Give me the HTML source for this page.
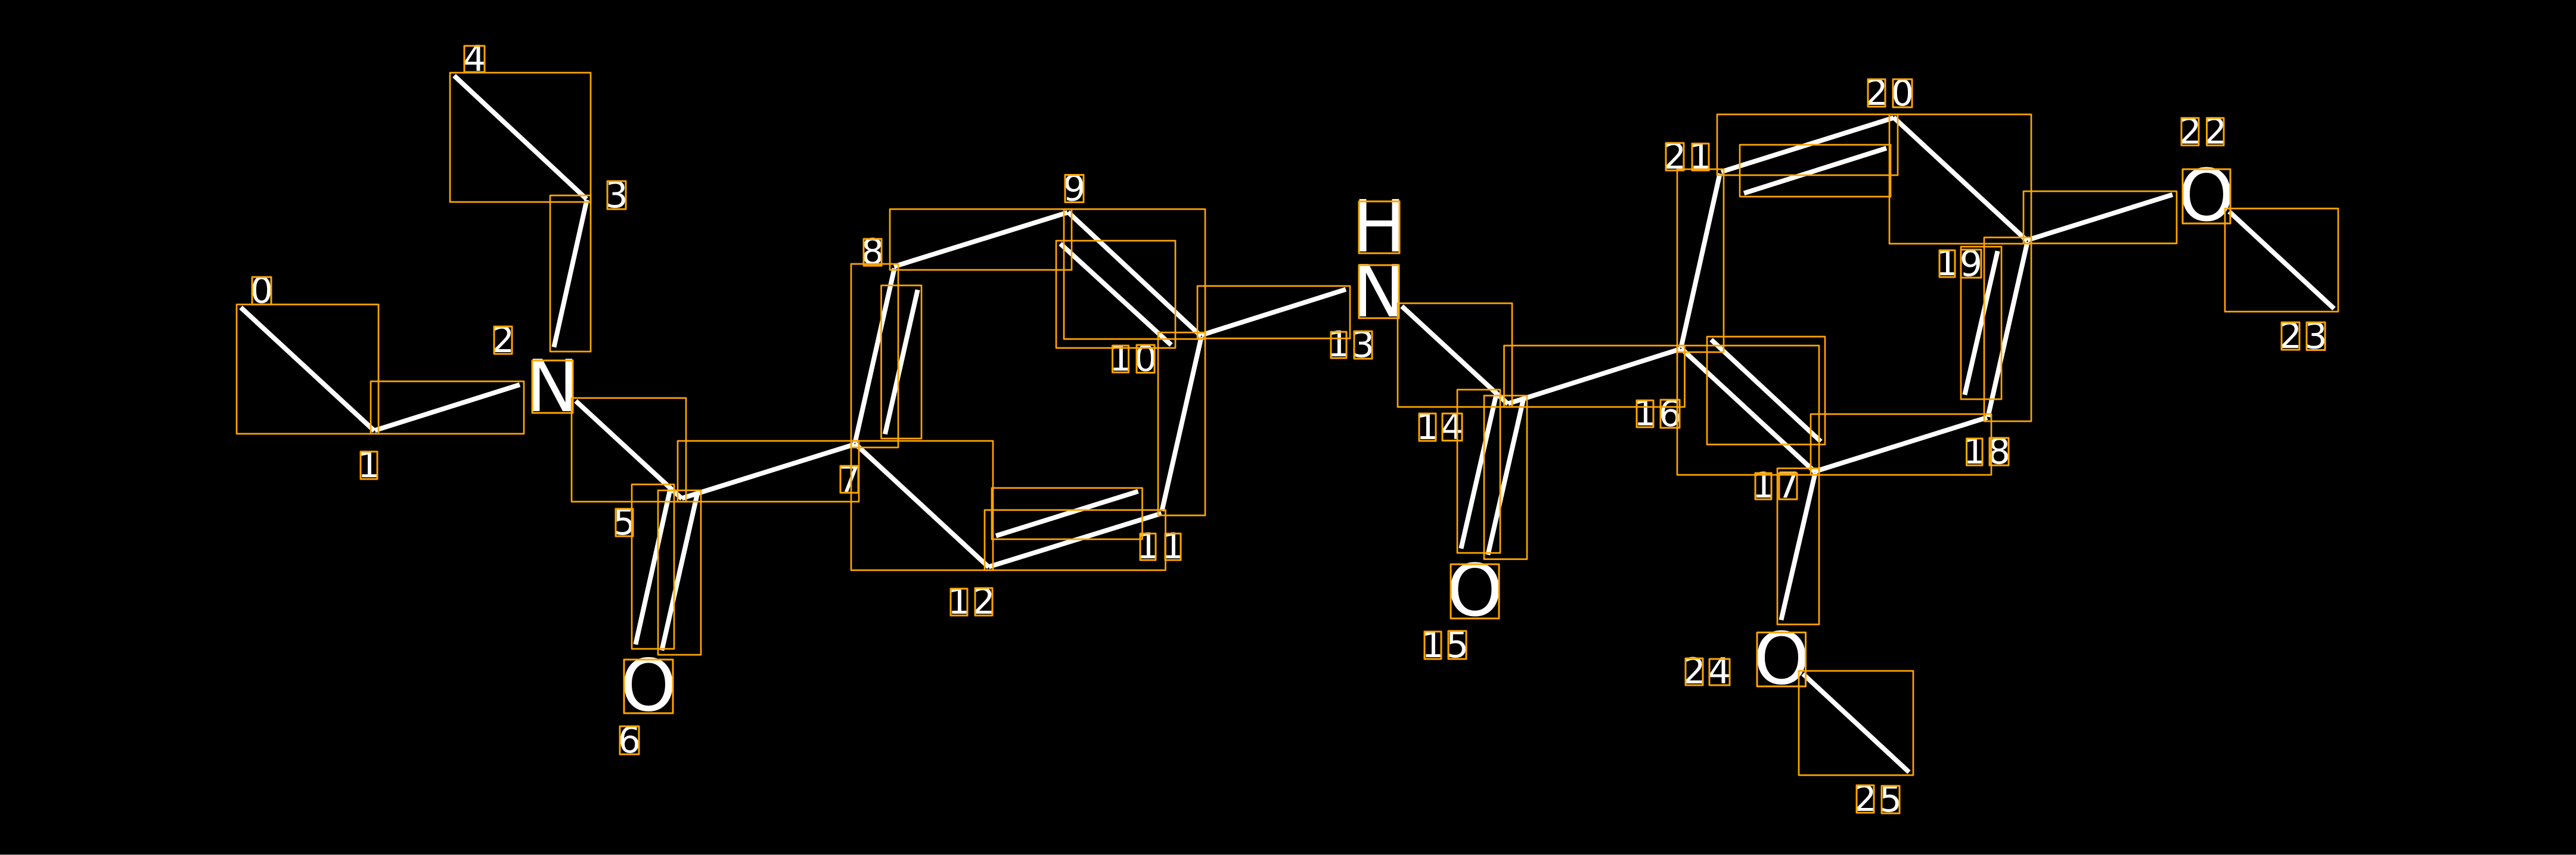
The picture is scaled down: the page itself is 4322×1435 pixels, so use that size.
<!DOCTYPE html>
<html><head><meta charset="utf-8"><style>
html,body{margin:0;padding:0;background:#000;width:4322px;height:1435px;overflow:hidden}
svg{display:block}
.l line{stroke:#fff;stroke-width:8;stroke-linecap:butt}
.b rect{fill:none;stroke:#FFA500;stroke-width:2.7;stroke-linejoin:round}
.g rect{fill:none;stroke:#FFA500;stroke-width:3;stroke-linejoin:round}
text{font-family:"DejaVu Sans","Liberation Sans",sans-serif;fill:#fff;text-anchor:middle}
.d text{font-size:60px}
.a text{font-size:120px}
</style></head><body>
<svg xmlns="http://www.w3.org/2000/svg" width="4322" height="1435" viewBox="0 0 4322 1435">
<rect width="4322" height="1435" fill="#000"/>
<rect x="0" y="1434" width="4322" height="1" fill="#888"/>
<g class="l">
<line x1="404" y1="516" x2="628" y2="723"/>
<line x1="629" y1="722.3" x2="872" y2="645.7"/>
<line x1="762" y1="127" x2="984" y2="334"/>
<line x1="984.6" y1="335.4" x2="929.4" y2="582.6"/>
<line x1="966" y1="673" x2="1144" y2="837"/>
<line x1="1144" y1="836.3" x2="1434" y2="745.7"/>
<line x1="1124.6" y1="820.4" x2="1066.4" y2="1081.6"/>
<line x1="1169.6" y1="830.4" x2="1110.4" y2="1091.6"/>
<line x1="1434.4" y1="743.6" x2="1500.6" y2="450.4"/>
<line x1="1484.9" y1="728.6" x2="1539.6" y2="486.4"/>
<line x1="1435" y1="745" x2="1659" y2="952"/>
<line x1="1500" y1="447.3" x2="1791" y2="356.7"/>
<line x1="1792" y1="356" x2="2015" y2="564"/>
<line x1="1779" y1="409" x2="1965" y2="579"/>
<line x1="2015.6" y1="565.4" x2="1949.4" y2="857.6"/>
<line x1="1659" y1="951.3" x2="1948.5" y2="861.7"/>
<line x1="1671" y1="899.3" x2="1909.5" y2="824.7"/>
<line x1="2016" y1="562.3" x2="2258" y2="485.7"/>
<line x1="2352" y1="514" x2="2530" y2="678"/>
<line x1="2530.5" y1="677.3" x2="2819.5" y2="585.7"/>
<line x1="2510.6" y1="661.4" x2="2451.4" y2="920.6"/>
<line x1="2555.6" y1="671.4" x2="2496.4" y2="931.1"/>
<line x1="2820.4" y1="583.6" x2="2885.6" y2="291.4"/>
<line x1="2821" y1="585" x2="3045" y2="792"/>
<line x1="2871" y1="570" x2="3055" y2="741"/>
<line x1="3045" y1="791.3" x2="3334" y2="700.7"/>
<line x1="3335.4" y1="699.6" x2="3401.6" y2="405.9"/>
<line x1="3296.4" y1="662.6" x2="3351.6" y2="421.4"/>
<line x1="3177" y1="197" x2="3401" y2="404"/>
<line x1="2888" y1="288.3" x2="3177" y2="197.7"/>
<line x1="2926" y1="324.3" x2="3165" y2="248.7"/>
<line x1="3402" y1="402.8" x2="3645" y2="326.7"/>
<line x1="3045.6" y1="793.4" x2="2988.4" y2="1040.6"/>
<line x1="3025" y1="1131" x2="3203" y2="1296"/>
<line x1="3740" y1="355" x2="3916" y2="518"/>
</g>
<g class="a">
<text x="927" y="690">N</text>
<text x="1088" y="1192.5">O</text>
<text x="2314" y="422">H</text>
<text x="2313.5" y="531">N</text>
<text x="2474.5" y="1033">O</text>
<text x="2989" y="1147.5">O</text>
<text x="3702" y="370">O</text>
</g>
<g class="d">
<text x="439" y="508">0</text>
<text x="619" y="801">1</text>
<text x="844" y="591">2</text>
<text x="1034.5" y="348">3</text>
<text x="796" y="119">4</text>
<text x="1047.5" y="897">5</text>
<text x="1056" y="1263">6</text>
<text x="1425" y="825">7</text>
<text x="1464" y="443">8</text>
<text x="1802.5" y="336.5">9</text>
<text x="1880" y="622">1</text><text x="1922" y="622.5">0</text>
<text x="1926" y="937">1</text><text x="1968" y="937">1</text>
<text x="1609" y="1030">1</text><text x="1650.5" y="1030">2</text>
<text x="2246" y="598">1</text><text x="2287" y="599">3</text>
<text x="2395" y="737">1</text><text x="2436.5" y="737">4</text>
<text x="2404" y="1103">1</text><text x="2445" y="1103">5</text>
<text x="2760" y="714">1</text><text x="2802" y="715">6</text>
<text x="2958.5" y="835">1</text><text x="3000" y="835">7</text>
<text x="3313" y="778">1</text><text x="3354" y="778">8</text>
<text x="3267" y="462">1</text><text x="3307" y="463">9</text>
<text x="3148.5" y="176">2</text><text x="3192" y="177">0</text>
<text x="2810" y="283">2</text><text x="2853" y="283">1</text>
<text x="3674.5" y="241">2</text><text x="3717" y="241">2</text>
<text x="3843" y="584">2</text><text x="3885.5" y="584.5">3</text>
<text x="2842.5" y="1147">2</text><text x="2885" y="1147">4</text>
<text x="3129.5" y="1361">2</text><text x="3172" y="1362">5</text>
</g>
<g class="b">
<rect x="397" y="511" width="238" height="217"/>
<rect x="622" y="640" width="257" height="88"/>
<rect x="755" y="122" width="236" height="217"/>
<rect x="923" y="328" width="68" height="262"/>
<rect x="959" y="668" width="192" height="174"/>
<rect x="1137" y="740" width="304" height="102"/>
<rect x="1060" y="813" width="71" height="276"/>
<rect x="1104" y="823" width="72" height="276"/>
<rect x="1428" y="740" width="238" height="217"/>
<rect x="1428" y="443" width="79" height="308"/>
<rect x="1478.5" y="479" width="67.5" height="257"/>
<rect x="1493" y="351" width="305" height="102"/>
<rect x="1785" y="351" width="237" height="218"/>
<rect x="1772" y="404" width="200" height="180"/>
<rect x="1943" y="558" width="79" height="307"/>
<rect x="1652" y="856" width="303.5" height="101"/>
<rect x="1664" y="819" width="252.5" height="86"/>
<rect x="2009" y="480" width="256" height="88"/>
<rect x="2345" y="509" width="192" height="174"/>
<rect x="2523.5" y="580" width="303" height="103"/>
<rect x="2445" y="654" width="72" height="274"/>
<rect x="2490" y="664" width="72" height="274.5"/>
<rect x="2814" y="284" width="78" height="307"/>
<rect x="2814" y="580" width="238" height="217"/>
<rect x="2864" y="565" width="198" height="181"/>
<rect x="3038" y="695" width="303" height="102"/>
<rect x="3329" y="398.5" width="79" height="308.5"/>
<rect x="3290" y="414" width="68" height="256"/>
<rect x="3170" y="192" width="238" height="217"/>
<rect x="2881" y="192" width="303" height="102"/>
<rect x="2919" y="243" width="253" height="87"/>
<rect x="3395" y="321" width="257" height="87.5"/>
<rect x="2982" y="786" width="70" height="262"/>
<rect x="3018" y="1126" width="192" height="175"/>
<rect x="3733" y="350" width="190" height="173"/>
</g>
<g class="g">
<rect x="893" y="605" width="68" height="88"/>
<rect x="1047" y="1107" width="82" height="90"/>
<rect x="2280" y="338" width="68" height="87"/>
<rect x="2280" y="445" width="67" height="89"/>
<rect x="2434" y="947" width="81" height="91"/>
<rect x="2948" y="1061.5" width="81.5" height="90.5"/>
<rect x="3662" y="284" width="80" height="91"/>
<rect x="423" y="465" width="32" height="46"/>
<rect x="605" y="758" width="28" height="46"/>
<rect x="829" y="548" width="30" height="46"/>
<rect x="1019" y="304" width="31" height="47"/>
<rect x="779" y="77" width="34" height="44"/>
<rect x="1033" y="854" width="29" height="46"/>
<rect x="1040" y="1219" width="32" height="47"/>
<rect x="1410" y="782" width="30" height="45"/>
<rect x="1449" y="401" width="30" height="45"/>
<rect x="1787" y="293.5" width="31" height="46"/>
<rect x="1866.5" y="580" width="27" height="45"/><rect x="1907" y="579" width="30" height="46.5"/>
<rect x="1913" y="895.5" width="26" height="44.5"/><rect x="1955" y="895.5" width="26" height="44.5"/>
<rect x="1595" y="988" width="28" height="45"/><rect x="1636" y="987" width="29" height="46"/>
<rect x="2233" y="557" width="26" height="44"/><rect x="2272" y="556" width="30" height="46"/>
<rect x="2381" y="694" width="28" height="46"/><rect x="2420" y="694" width="33" height="45.5"/>
<rect x="2390" y="1060" width="28" height="46"/><rect x="2430" y="1059" width="30" height="47"/>
<rect x="2746" y="672" width="28" height="45"/><rect x="2786" y="671" width="32" height="47"/>
<rect x="2945" y="794" width="27" height="44"/><rect x="2985" y="794" width="30" height="44"/>
<rect x="3299.5" y="736" width="26.5" height="45"/><rect x="3338" y="735" width="32" height="46"/>
<rect x="3254" y="420" width="26" height="45"/><rect x="3290" y="419" width="34" height="47"/>
<rect x="3134" y="133" width="29" height="46"/><rect x="3176" y="133" width="32" height="47"/>
<rect x="2795" y="240" width="30" height="46"/><rect x="2839" y="241" width="28" height="45"/>
<rect x="3660" y="198" width="29" height="46"/><rect x="3702.5" y="198" width="28.5" height="46"/>
<rect x="3828" y="541" width="30" height="46"/><rect x="3870" y="541" width="31" height="46.5"/>
<rect x="2828" y="1105" width="29" height="45"/><rect x="2868" y="1106" width="34" height="44"/>
<rect x="3115" y="1318" width="29" height="46"/><rect x="3157" y="1319" width="30" height="46"/>
</g>
</svg>
</body></html>
